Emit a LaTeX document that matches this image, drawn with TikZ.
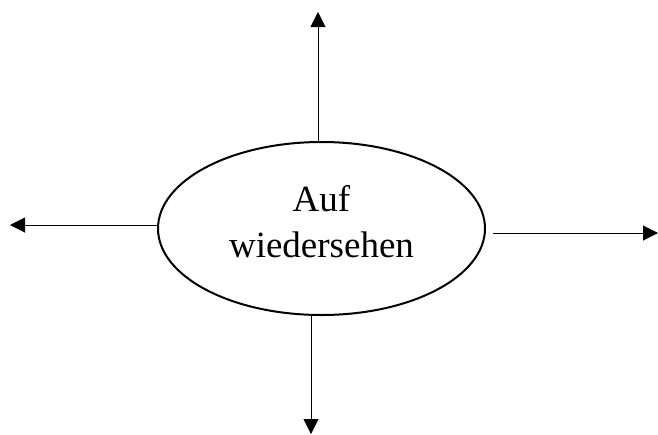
\documentclass[tikz,border=0pt]{standalone}
\usepackage{fontspec}
\setmainfont{Liberation Serif}
\usetikzlibrary{arrows.meta,shapes.geometric}
\begin{document}
\begin{tikzpicture}[x=1pt,y=-1pt,
  bubble/.style={ellipse,draw,line width=2pt,minimum width=327pt,minimum height=173pt,inner sep=0pt},
  caption/.style={align=center,inner sep=0pt,font=\fontsize{37}{46}\selectfont},
  arr/.style={line width=1pt,-{Triangle[length=15pt,width=15pt]}}]
  \useasboundingbox (0,0) rectangle (658,434);
  \node[bubble] (e) at (321.5,228.5) {};
  \node[caption] (lbl) at (321.5,222) {Auf\\wiedersehen};
  \coordinate (tU) at (318,12);
  \coordinate (tL) at (10,225);
  \coordinate (tR) at (658,233);
  \coordinate (tD) at (311,434);
  \draw[arr] (e.north -| tU) -- (tU);
  \draw[arr] (tL -| e.west) -- (tL);
  \draw[arr,shorten <=7pt] (tR -| e.east) -- (tR);
  \draw[arr] (e.south -| tD) -- (tD);
\end{tikzpicture}
\end{document}
